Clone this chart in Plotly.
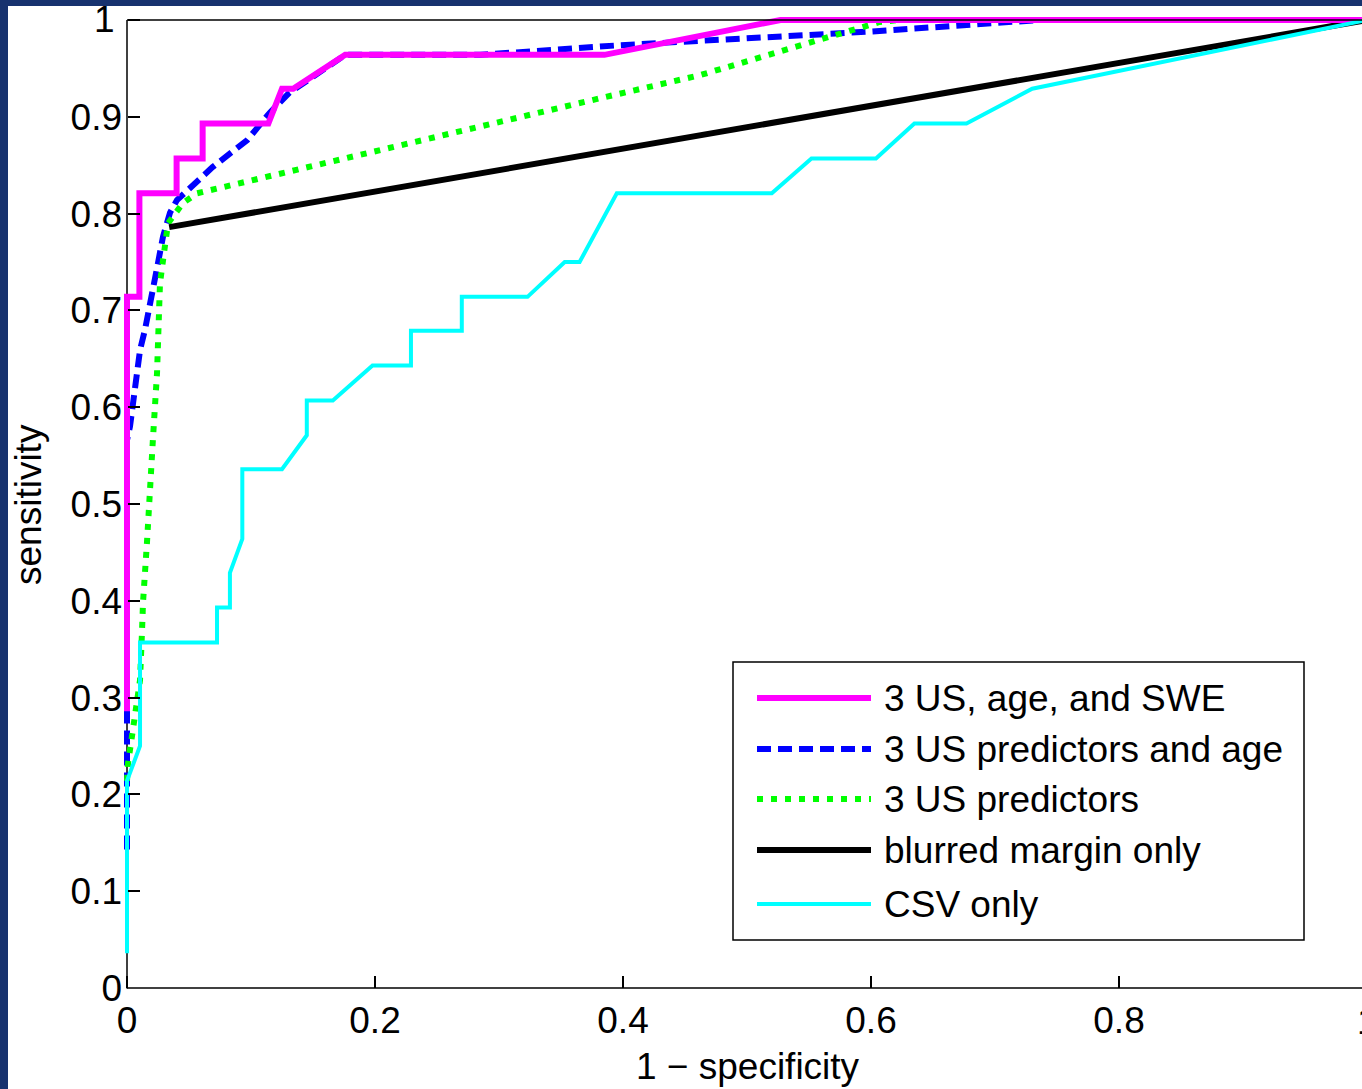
import plotly.graph_objects as go

# ---------------- data ----------------
swe_x = [0, 0, 0.010, 0.010, 0.040, 0.040, 0.061, 0.061, 0.114, 0.125, 0.134, 0.176, 0.385, 0.527, 1.0]
swe_y = [0.286, 0.714, 0.714, 0.821, 0.821, 0.857, 0.857, 0.893, 0.893, 0.929, 0.929, 0.964, 0.964, 1.0, 1.0]

age_x = [0, 0, 0.0024, 0.0065, 0.0105, 0.0145, 0.0185, 0.0226, 0.025, 0.029, 0.0347, 0.0403,
         0.069, 0.097, 0.115, 0.131, 0.176, 0.285, 0.398, 0.599, 0.736, 1.0]
age_y = [0.143, 0.566, 0.580, 0.615, 0.659, 0.680, 0.704, 0.731, 0.749, 0.776, 0.801, 0.814,
         0.848, 0.876, 0.904, 0.925, 0.964, 0.964, 0.974, 0.988, 1.0, 1.0]

us_x = [0, 0.0008, 0.0048, 0.0105, 0.0121, 0.0129, 0.0161, 0.0185, 0.021, 0.0242, 0.025, 0.0266,
        0.0298, 0.0331, 0.0452, 0.0565, 0.381, 0.462, 0.607, 0.623, 1.0]
us_y = [0.214, 0.232, 0.267, 0.318, 0.368, 0.398, 0.460, 0.525, 0.569, 0.635, 0.680, 0.728,
        0.759, 0.790, 0.811, 0.821, 0.919, 0.943, 0.998, 1.0, 1.0]

blur_x = [0.034, 1.0]
blur_y = [0.786, 1.0]

csv_x = [0, 0, 0.0105, 0.0105, 0.0726, 0.0726, 0.083, 0.083, 0.093, 0.093, 0.125, 0.145, 0.145,
         0.166, 0.198, 0.229, 0.229, 0.270, 0.270, 0.323, 0.353, 0.365, 0.395, 0.520, 0.552,
         0.604, 0.635, 0.677, 0.730, 1.0]
csv_y = [0.036, 0.214, 0.250, 0.357, 0.357, 0.393, 0.393, 0.429, 0.464, 0.536, 0.536, 0.571, 0.607,
         0.607, 0.643, 0.643, 0.679, 0.679, 0.714, 0.714, 0.750, 0.750, 0.821, 0.821, 0.857,
         0.857, 0.893, 0.893, 0.929, 1.0]

series_names = ["3 US, age, and SWE", "3 US predictors and age", "3 US predictors",
                "blurred margin only", "CSV only"]
x_ticks = [0, 0.2, 0.4, 0.6, 0.8, 1.0]
x_ticktext = ["0", "0.2", "0.4", "0.6", "0.8", "1"]
y_ticks = [0, 0.1, 0.2, 0.3, 0.4, 0.5, 0.6, 0.7, 0.8, 0.9, 1.0]
y_ticktext = ["0", "0.1", "0.2", "0.3", "0.4", "0.5", "0.6", "0.7", "0.8", "0.9", "1"]

# ---------------- styles ----------------
FONT = "Liberation Sans, Arial, Helvetica, sans-serif"
FS = 37
NAVY = "#17326e"
styles = [
    dict(color="#ff00ff", width=6, dash="solid"),
    dict(color="#0000ff", width=6, dash="14px,7px"),
    dict(color="#00ff00", width=6, dash="6px,8px"),
    dict(color="#000000", width=6, dash="solid"),
    dict(color="#00ffff", width=4, dash="solid"),
]
data = [(swe_x, swe_y), (age_x, age_y), (us_x, us_y), (blur_x, blur_y), (csv_x, csv_y)]
draw_order = [1, 2, 3, 0, 4]

W, H = 1362, 1089
L, R, T, B = 122, 0, 15, 101
PW = W - L - R
PH = H - T - B


def px(xp):
    return (xp - L) / PW


def py(yp):
    return (H - B - yp) / PH


fig = go.Figure()
for i in draw_order:
    xs, ys = data[i]
    fig.add_trace(go.Scatter(x=xs, y=ys, mode="lines", name=series_names[i], line=styles[i],
                             showlegend=False, hoverinfo="skip"))

shapes = []
# navy frame
shapes.append(dict(type="rect", xref="paper", yref="paper", x0=px(-2), x1=px(8), y0=py(H + 5),
                   y1=py(-5), fillcolor=NAVY, line=dict(width=0), layer="above"))
shapes.append(dict(type="rect", xref="paper", yref="paper", x0=px(-2), x1=px(W + 5), y0=py(6),
                   y1=py(-5), fillcolor=NAVY, line=dict(width=0), layer="above"))
# axes box
shapes.append(dict(type="line", xref="paper", yref="paper", x0=px(127), x1=px(127), y0=py(988.5),
                   y1=py(20), line=dict(color="black", width=1.5), layer="below"))
shapes.append(dict(type="line", xref="paper", yref="paper", x0=px(127), x1=px(W + 5), y0=py(988),
                   y1=py(988), line=dict(color="black", width=1.5), layer="below"))
shapes.append(dict(type="line", xref="paper", yref="paper", x0=px(127), x1=px(W + 5), y0=py(20),
                   y1=py(20), line=dict(color="black", width=1.5), layer="above"))
# legend box
shapes.append(dict(type="rect", xref="paper", yref="paper", x0=px(733), x1=px(1304), y0=py(940),
                   y1=py(662), fillcolor="white", line=dict(color="black", width=1.5), layer="above"))
legend_rows = [698, 749, 799, 850, 904]
annotations = []
for name, st, yy in zip(series_names, styles, legend_rows):
    shapes.append(dict(type="line", xref="paper", yref="paper", x0=px(757), x1=px(871),
                       y0=py(yy), y1=py(yy), line=st, layer="above"))
    annotations.append(dict(xref="paper", yref="paper", x=px(882), y=py(yy), text=name,
                            showarrow=False, xanchor="left", yanchor="middle",
                            font=dict(family=FONT, size=FS, color="black")))

annotations.append(dict(xref="paper", yref="paper", x=px(28), y=py(505), text="sensitivity",
                        textangle=-90, showarrow=False, xanchor="center", yanchor="middle",
                        font=dict(family=FONT, size=FS, color="black")))
annotations.append(dict(xref="paper", yref="paper", x=px(748), y=py(1066), text="1 \u2212 specificity",
                        showarrow=False, xanchor="center", yanchor="middle",
                        font=dict(family=FONT, size=FS, color="black")))
# tick labels sitting at the very edges of the page
annotations.append(dict(xref="paper", yref="paper", x=px(1367), y=py(1022), text=x_ticktext[-1],
                        showarrow=False, xanchor="center", yanchor="middle",
                        font=dict(family=FONT, size=FS, color="black")))
annotations.append(dict(xref="paper", yref="paper", x=px(117), y=py(20), text=y_ticktext[-1],
                        showarrow=False, xanchor="right", yanchor="middle",
                        font=dict(family=FONT, size=FS, color="black")))

y_ticktext_axis = y_ticktext[:-1] + [""]

fig.update_layout(
    width=W, height=H,
    margin=dict(l=L, r=R, t=T, b=B, pad=0),
    paper_bgcolor="white", plot_bgcolor="white",
    font=dict(family=FONT, size=FS, color="black"),
    shapes=shapes, annotations=annotations,
    xaxis=dict(range=[-5 / 1240, 1235 / 1240], tickvals=x_ticks, ticktext=x_ticktext,
               ticks="inside", ticklen=12, tickwidth=1.5, tickcolor="black",
               showgrid=False, zeroline=False, showline=False, ticklabelstandoff=7,
               tickfont=dict(family=FONT, size=FS, color="black")),
    yaxis=dict(range=[0, 973 / 968], tickvals=y_ticks, ticktext=y_ticktext_axis,
               anchor="free", position=5 / 1240,
               ticks="inside", ticklen=12, tickwidth=1.5, tickcolor="black",
               showgrid=False, zeroline=False, showline=False, ticklabelstandoff=5,
               tickfont=dict(family=FONT, size=FS, color="black")),
)

fig.write_html("out.html", config={"displayModeBar": False},
               post_script="document.body.style.margin='0px';document.body.style.overflow='hidden';")
